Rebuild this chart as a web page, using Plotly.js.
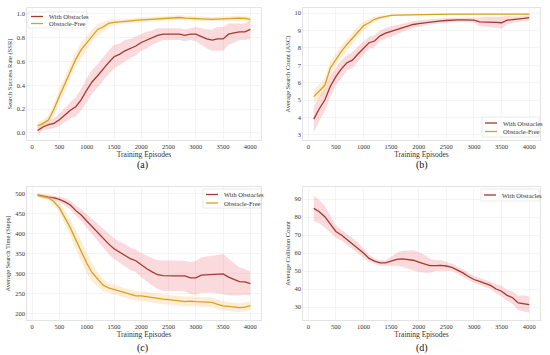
<!DOCTYPE html>
<html><head><meta charset="utf-8">
<script src="https://cdn.plot.ly/plotly-3.0.1.min.js"></script>
<style>html,body{margin:0;padding:0;background:#fff}#plot{width:550px;height:355px}</style>
</head><body><div id="plot"></div>
<script>
const episodes = [100,200,300,400,500,600,700,800,900,1000,1100,1200,1300,1400,1500,1600,1700,1800,1900,2000,2100,2200,2300,2400,2500,2600,2700,2800,2900,3000,3100,3200,3300,3400,3500,3600,3700,3800,3900,4000];

// (a) Search Success Rate
const ssrObs = [0.02,0.05,0.07,0.08,0.11,0.15,0.19,0.22,0.28,0.36,0.43,0.48,0.54,0.59,0.64,0.66,0.69,0.71,0.73,0.76,0.78,0.80,0.82,0.83,0.83,0.83,0.83,0.82,0.83,0.83,0.81,0.79,0.78,0.79,0.79,0.83,0.84,0.85,0.85,0.87];
const ssrObsErr = [0.03,0.03,0.04,0.04,0.05,0.06,0.07,0.08,0.09,0.10,0.10,0.10,0.10,0.10,0.10,0.09,0.09,0.08,0.08,0.07,0.07,0.06,0.06,0.05,0.05,0.05,0.05,0.05,0.05,0.06,0.07,0.08,0.09,0.10,0.10,0.09,0.08,0.07,0.07,0.08];
const ssrFree = [0.06,0.08,0.11,0.20,0.31,0.41,0.52,0.62,0.70,0.76,0.82,0.87,0.89,0.92,0.93,0.935,0.94,0.945,0.95,0.95,0.952,0.955,0.957,0.96,0.96,0.965,0.97,0.965,0.96,0.96,0.958,0.955,0.955,0.957,0.96,0.962,0.963,0.965,0.962,0.955];
const ssrFreeErr = [0.03,0.03,0.04,0.05,0.06,0.06,0.06,0.06,0.06,0.06,0.05,0.05,0.04,0.03,0.03,0.02,0.02,0.02,0.02,0.02,0.02,0.02,0.02,0.02,0.02,0.02,0.02,0.02,0.02,0.02,0.02,0.02,0.02,0.02,0.02,0.02,0.02,0.02,0.02,0.02];

// (b) Average Search Count
const ascObs = [3.9,4.5,5.0,5.8,6.35,6.8,7.15,7.3,7.65,8.0,8.3,8.4,8.7,8.85,8.95,9.05,9.15,9.25,9.35,9.4,9.45,9.5,9.53,9.56,9.58,9.62,9.62,9.62,9.62,9.6,9.5,9.5,9.5,9.47,9.45,9.6,9.63,9.65,9.7,9.75];
const ascObsErr = [0.75,0.7,0.65,0.6,0.5,0.5,0.45,0.45,0.45,0.4,0.35,0.35,0.3,0.3,0.3,0.25,0.25,0.22,0.2,0.2,0.18,0.15,0.15,0.15,0.12,0.12,0.12,0.12,0.12,0.15,0.25,0.3,0.3,0.3,0.35,0.25,0.2,0.15,0.15,0.15];
const ascFree = [5.2,5.5,5.85,6.85,7.35,7.8,8.2,8.55,8.95,9.28,9.45,9.65,9.75,9.82,9.87,9.89,9.9,9.91,9.92,9.93,9.94,9.94,9.95,9.95,9.95,9.95,9.95,9.95,9.95,9.95,9.95,9.95,9.95,9.95,9.95,9.95,9.95,9.95,9.95,9.95];
const ascFreeErr = [0.4,0.4,0.4,0.4,0.35,0.35,0.3,0.3,0.3,0.25,0.2,0.15,0.1,0.08,0.06,0.05,0.04,0.04,0.03,0.03,0.03,0.03,0.03,0.03,0.03,0.03,0.03,0.03,0.03,0.03,0.03,0.03,0.03,0.03,0.03,0.03,0.03,0.03,0.03,0.03];

// (c) Average Search Time
const astObs = [497,494,492,490,486,480,472,458,447,432,418,402,390,375,363,354,347,338,333,322,313,305,298,296,295,295,295,295,290,290,297,298,299,300,300,292,286,281,280,276];
const astObsErr = [4,5,6,6,7,9,11,13,15,17,19,21,23,25,26,27,28,28,28,30,32,34,36,38,38,38,38,38,40,42,44,45,46,48,50,46,40,35,32,30];
const astFree = [496,493,490,480,465,440,415,385,355,327,303,286,272,265,261,256,252,249,245,245,243,240,238,237,236,235,233,231,232,231,230,229,229,224,220,219,218,216,217,221];
const astFreeErr = [4,5,6,8,12,16,20,24,25,24,22,18,15,13,12,12,12,12,12,12,12,12,12,12,12,12,12,12,12,12,12,12,12,12,12,11,11,11,11,11];

// (d) Average Collision Count
const accObs = [84.8,83,80.2,76,72,70,67.5,65.5,63,60,57,55.5,54.5,54.5,55.5,56.5,56.8,56.5,56,55,54,53,53,53.2,52.8,52,50.5,49,47,45.3,44.3,43.2,42,40,38.8,36.5,35.2,32.3,32,31.3];
const accObsErr = [7,6.5,6,4.5,3.5,3,3,3,3,2.5,2,1.5,1.5,1.5,2.5,3.5,4.5,5,5.5,5.5,5,4,3,3,2.5,2,2,2,2,2,2,2,2,2.5,3,3,3.5,4,4.5,4.5];

const seriesNames = ['With Obstacles','Obstacle-Free'];
const xTicks = [0,500,1000,1500,2000,2500,3000,3500,4000];
const panelLabels = ['(a)','(b)','(c)','(d)'];

const colObs = '#a33a2c', colFree = '#d6a21e';
const bandObs = 'rgba(242,140,150,0.32)', bandFree = 'rgba(248,200,130,0.32)';
const FONT = 'Liberation Serif, Times New Roman, serif';
const W = 550, H = 355;

const traces = [];
function add(mean, err, xa, ya, lineCol, bandCol) {
  const upper = mean.map((v,i)=>v+err[i]);
  const lower = mean.map((v,i)=>v-err[i]);
  traces.push({x: episodes.concat(episodes.slice().reverse()), y: upper.concat(lower.slice().reverse()),
    fill:'toself', fillcolor: bandCol, line:{width:0, color:'rgba(0,0,0,0)'}, mode:'lines',
    xaxis: xa, yaxis: ya, showlegend:false, hoverinfo:'skip'});
  traces.push({x: episodes, y: mean, mode:'lines', line:{color: lineCol, width:1.3},
    xaxis: xa, yaxis: ya, showlegend:false});
}
add(ssrObs, ssrObsErr, 'x', 'y', colObs, bandObs);
add(ssrFree, ssrFreeErr, 'x', 'y', colFree, bandFree);
add(ascObs, ascObsErr, 'x2', 'y2', colObs, bandObs);
add(ascFree, ascFreeErr, 'x2', 'y2', colFree, bandFree);
add(astObs, astObsErr, 'x3', 'y3', colObs, bandObs);
add(astFree, astFreeErr, 'x3', 'y3', colFree, bandFree);
add(accObs, accObsErr, 'x4', 'y4', colObs, bandObs);

function xax(dom, anchor) {
  return {domain: dom, anchor: anchor, range:[-95,4195], tickvals: xTicks, ticktext: xTicks.map(String),
    showgrid:true, gridcolor:'#ececec', gridwidth:0.6, zeroline:false, showline:true, mirror:true,
    linecolor:'#dcdcdc', linewidth:0.8, ticks:'', tickfont:{family:FONT,size:6.5,color:'#333'},
    title:{text:'Training Episodes', font:{family:FONT,size:7.5,color:'#333'}, standoff:0}};
}
function yax(dom, anchor, range, dtick, title, fmt) {
  return {domain: dom, anchor: anchor, range: range, dtick: dtick, tickformat: fmt,
    showgrid:true, gridcolor:'#ececec', gridwidth:0.6, zeroline:false, showline:true, mirror:true,
    linecolor:'#dcdcdc', linewidth:0.8, ticks:'', tickfont:{family:FONT,size:6.5,color:'#333'},
    title:{text: title, font:{family:FONT,size:6.5,color:'#333'}, standoff:3}};
}
const dxL = [27/W, 261/W], dxR = [303/W, 540/W];
const dyT = [1-140/H, 1-8/H], dyB = [1-320/H, 1-187/H];

// manual legends (pixel boxes), entries reference seriesNames
const shapes = [], annotations = [];
function legendBox(x0, y0, x1, y1, rows) {
  shapes.push({type:'rect', xref:'paper', yref:'paper', x0:x0/W, x1:x1/W, y0:1-y0/H, y1:1-y1/H,
    line:{color:'#dddddd', width:0.6}, fillcolor:'rgba(255,255,255,0.85)', layer:'above'});
  rows.forEach(r => {
    shapes.push({type:'line', xref:'paper', yref:'paper', x0:(x0+3)/W, x1:(x0+15)/W, y0:1-r.y/H, y1:1-r.y/H,
      line:{color:r.color, width:1.3}, layer:'above'});
    annotations.push({text:r.text, xref:'paper', yref:'paper', x:(x0+19)/W, y:1-r.y/H, xanchor:'left', yanchor:'middle',
      showarrow:false, font:{family:FONT,size:6.5,color:'#333'}});
  });
}
legendBox(28, 12, 87, 28, [{y:16.5, color:colObs, text:seriesNames[0]},{y:23.5, color:colFree, text:seriesNames[1]}]);
legendBox(482, 117, 539, 137, [{y:123, color:colObs, text:seriesNames[0]},{y:131.5, color:colFree, text:seriesNames[1]}]);
legendBox(203, 189, 261, 208, [{y:194.5, color:colObs, text:seriesNames[0]},{y:203, color:colFree, text:seriesNames[1]}]);
legendBox(481, 189, 539, 201, [{y:195, color:colObs, text:seriesNames[0]}]);

const labelPos = [[142,165],[422,165],[142,348],[422,348]];
panelLabels.forEach((t,i)=>annotations.push({text:t, x:labelPos[i][0]/W, y:1-labelPos[i][1]/H, xref:'paper', yref:'paper',
  xanchor:'center', yanchor:'middle', showarrow:false, font:{family:FONT,size:10,color:'#111'}}));

const layout = {
  width:W, height:H, margin:{l:0,r:0,t:0,b:0}, paper_bgcolor:'#fff', plot_bgcolor:'#fff',
  font:{family:FONT}, showlegend:false,
  xaxis: xax(dxL,'y'), yaxis: yax(dyT,'x',[-0.06,1.05],0.2,'Search Success Rate (SSR)','.1f'),
  xaxis2: xax(dxR,'y2'), yaxis2: yax(dyT,'x2',[2.7,10.3],1,'Average Search Count (ASC)',''),
  xaxis3: xax(dxL,'y3'), yaxis3: yax(dyB,'x3',[185,517],50,'Average Search Time (Steps)',''),
  xaxis4: xax(dxR,'y4'), yaxis4: yax(dyB,'x4',[22.8,96.7],10,'Average Collision Count',''),
  shapes: shapes, annotations: annotations
};
Plotly.newPlot('plot', traces, layout, {staticPlot:true, displayModeBar:false});
</script></body></html>
